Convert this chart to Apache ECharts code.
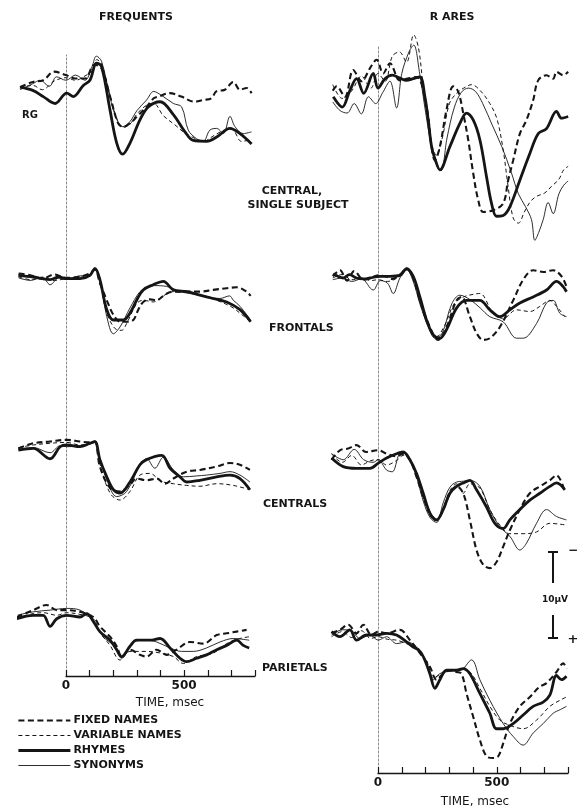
<!DOCTYPE html>
<html><head><meta charset="utf-8">
<script src="https://cdn.jsdelivr.net/npm/echarts@6/dist/echarts.min.js"></script>
<style>html,body{margin:0;padding:0;background:#fff}#c{width:579px;height:812px}</style>
</head><body><div id="c"></div>
<script>
// ---- categories ----
const SERIES_NAMES = ['FIXED NAMES', 'VARIABLE NAMES', 'RHYMES', 'SYNONYMS'];
const PANEL_NAMES = ['Frequents RG', 'Rares RG', 'Frequents Frontals', 'Rares Frontals',
  'Frequents Centrals', 'Rares Centrals', 'Frequents Parietals', 'Rares Parietals'];
const TIME_TICKS = [0, 500];           // labelled ticks, msec
// ---- data: [time msec, amplitude µV] (negative up) ----
const P1_FIXED = [[-194,-0.1],[-140,-0.7],[-96,-0.9],[-50,-1.9],[0,-1.5],[40,-1.1],[80,-1.1],[120,-2.7],[150,-2.3],[190,1.4],[220,4.1],[240,4.5],[270,4.1],[300,3.3],[340,2.2],[370,1.2],[390,1.0],[438,0.6],[487,1.0],[543,1.6],[578,1.4],[613,1.2],[634,0.4],[670,0.2],[706,-0.7],[734,0.2],[762,0.0],[783,0.6]];
const P1_VARIABLE = [[-194,0.0],[-140,-0.3],[-100,0.2],[-50,-0.8],[0,-1.2],[40,-0.9],[80,-1.4],[110,-2.0],[130,-3.3],[150,-2.8],[185,0.8],[215,3.6],[240,4.6],[270,4.2],[300,3.0],[340,2.0],[370,1.8],[410,3.2],[460,4.3],[500,5.2],[540,5.8],[580,6.2],[620,5.6],[660,5.0],[700,4.8],[740,6.2],[783,6.0]];
const P1_RHYMES = [[-194,-0.1],[-138,0.3],[-96,1.0],[-46,1.8],[3,0.6],[31,1.0],[73,-0.3],[101,-0.9],[129,-2.9],[150,-2.5],[186,2.6],[214,6.4],[239,7.7],[270,6.4],[312,3.7],[347,2.2],[397,1.6],[453,3.1],[502,5.1],[537,6.1],[593,6.2],[636,5.7],[692,4.7],[734,5.3],[783,6.5]];
const P1_SYNONYMS = [[-194,0.2],[-140,-0.5],[-110,-0.9],[-70,-0.2],[-40,-1.3],[0,-0.9],[40,-1.5],[80,-0.9],[110,-2.5],[128,-3.7],[150,-3.1],[185,1.0],[215,3.7],[240,4.5],[270,3.9],[300,2.6],[340,1.4],[370,0.4],[400,0.8],[453,1.8],[488,2.2],[516,4.9],[551,5.9],[579,6.2],[607,4.9],[636,4.7],[664,5.3],[692,3.3],[713,4.5],[748,5.3],[783,5.1]];

const P2_FIXED = [[-190,-0.5],[-174,-1.0],[-139,0.2],[-104,-2.9],[-69,-1.6],[-34,-3.1],[-6,-4.1],[22,-2.5],[50,-3.7],[92,-1.7],[120,-1.9],[162,-2.1],[204,1.4],[225,6.0],[239,7.6],[260,6.0],[288,1.7],[316,-1.0],[337,-0.4],[358,2.1],[379,5.2],[400,9.1],[421,12.2],[442,13.6],[484,13.4],[526,12.6],[547,9.9],[568,7.6],[596,4.5],[624,2.9],[652,0.6],[673,-1.7],[708,-2.3],[736,-1.9],[750,-2.7],[778,-2.3],[799,-2.7]];
const P2_VARIABLE = [[-190,-1.2],[-150,0.4],[-110,-0.5],[-70,-2.2],[-30,-0.8],[0,-2.5],[30,-1.6],[60,-4.5],[90,-5.0],[120,-3.8],[150,-7.0],[170,-5.5],[190,-1.0],[210,3.0],[230,6.2],[245,7.0],[270,5.0],[300,1.0],[330,-0.2],[360,-0.8],[393,-1.2],[430,-0.5],[470,1.0],[500,2.8],[526,6.4],[547,10.7],[568,14.3],[590,14.9],[615,13.6],[640,12.4],[665,11.8],[700,11.4],[730,10.6],[760,9.8],[780,8.7],[799,8.3]];
const P2_RHYMES = [[-188,0.2],[-150,1.4],[-120,-0.4],[-90,-1.9],[-60,-0.2],[-20,-2.5],[0,-0.8],[30,-1.9],[60,-2.3],[90,-2.0],[120,-1.7],[148,-1.9],[176,-2.1],[197,0.2],[211,2.9],[225,6.0],[239,7.4],[260,8.7],[302,6.0],[344,3.3],[372,2.1],[400,2.9],[428,5.2],[456,9.5],[477,12.6],[498,14.1],[526,14.0],[554,13.0],[596,9.9],[638,6.8],[673,4.5],[708,3.9],[750,1.9],[771,2.7],[799,2.5]];
const P2_SYNONYMS = [[-190,0.8],[-160,1.8],[-130,2.1],[-100,1.0],[-70,2.2],[-40,0.2],[-10,1.0],[20,-0.3],[50,-1.6],[78,1.5],[100,-2.5],[130,-5.0],[150,-5.8],[175,-2.5],[200,2.0],[225,6.0],[250,8.4],[265,8.8],[290,5.0],[320,1.5],[350,-0.3],[380,-0.8],[410,-0.4],[440,1.0],[480,3.5],[520,6.0],[560,9.0],[590,11.5],[620,13.0],[645,14.5],[659,16.9],[675,16.0],[694,14.5],[715,12.5],[736,13.8],[760,11.5],[780,10.5],[799,10.0]];

const P3_FIXED = [[-200,-0.4],[-150,-0.2],[-100,0.2],[-50,-0.3],[0,0.1],[50,0.0],[100,-0.4],[122,-0.9],[143,0.7],[172,2.7],[200,4.4],[228,5.2],[256,5.2],[284,5.0],[305,3.8],[326,2.9],[354,2.6],[382,2.7],[420,2.0],[453,1.7],[509,1.7],[565,1.7],[621,1.5],[678,1.3],[720,1.2],[762,1.7],[779,2.2]];
const P3_VARIABLE = [[-200,0.0],[-150,0.3],[-100,0.1],[-50,0.4],[0,0.2],[50,0.1],[100,-0.3],[122,-0.8],[143,0.5],[172,4.2],[207,6.0],[235,6.2],[256,5.4],[298,3.1],[326,2.7],[368,2.9],[410,2.2],[453,1.7],[537,1.9],[635,2.7],[700,3.5],[734,4.2],[779,5.2]];
const P3_RHYMES = [[-201,-0.2],[-138,0.0],[-100,0.2],[-67,0.3],[-30,0.0],[3,0.2],[59,0.2],[101,-0.2],[122,-1.0],[143,0.3],[172,3.8],[200,5.0],[242,5.0],[270,4.2],[298,2.7],[326,1.5],[368,0.9],[411,0.5],[453,1.5],[509,1.7],[565,2.1],[621,2.5],[678,2.9],[734,3.8],[779,5.2]];
const P3_SYNONYMS = [[-200,0.1],[-150,0.4],[-100,0.0],[-67,0.9],[-30,0.1],[0,0.3],[50,-0.1],[100,-0.2],[122,-0.9],[143,0.3],[172,4.6],[200,6.6],[228,5.8],[270,3.6],[312,1.7],[340,1.3],[370,1.0],[425,1.1],[481,1.7],[565,2.1],[649,2.5],[690,2.2],[706,2.7],[734,3.4],[779,5.0]];

const P4_FIXED = [[-190,-0.2],[-160,-0.9],[-130,0.3],[-100,-0.8],[-60,0.2],[-30,0.0],[0,-0.3],[30,-0.2],[60,0.1],[92,-0.4],[120,-1.1],[148,0.0],[176,2.6],[218,5.7],[253,7.2],[288,5.7],[330,2.6],[351,2.2],[386,4.5],[414,6.4],[442,7.2],[470,7.0],[512,5.7],[568,2.6],[610,0.2],[652,-0.9],[694,-0.7],[736,-0.9],[771,-0.2],[792,1.0]];
const P4_VARIABLE = [[-190,0.0],[-150,-0.4],[-110,0.2],[-70,0.0],[-30,0.3],[0,0.2],[40,0.4],[80,0.0],[120,-0.9],[148,0.2],[176,2.8],[210,5.5],[246,6.8],[280,5.5],[320,3.0],[360,2.2],[400,1.9],[428,1.8],[484,4.1],[526,4.7],[582,3.7],[638,3.9],[680,3.3],[722,2.6],[750,3.3],[785,4.5]];
const P4_RHYMES = [[-188,-0.5],[-146,0.0],[-120,-0.4],[-90,0.0],[-60,0.1],[-34,0.0],[8,-0.2],[50,-0.2],[92,-0.3],[120,-1.1],[148,-0.2],[176,2.2],[204,4.9],[232,6.6],[260,7.0],[288,6.0],[330,3.5],[372,2.6],[428,2.6],[470,3.7],[512,4.5],[554,3.7],[596,2.9],[652,2.2],[708,1.4],[750,0.4],[778,1.0],[792,1.6]];
const P4_SYNONYMS = [[-190,0.2],[-150,0.0],[-110,0.4],[-70,0.1],[-20,1.4],[10,0.3],[40,0.6],[64,1.8],[92,0.0],[120,-1.0],[148,0.4],[176,3.0],[210,5.6],[240,7.0],[270,6.4],[310,3.0],[344,2.0],[386,2.5],[430,3.5],[470,4.5],[526,5.1],[582,7.0],[610,7.0],[666,5.3],[708,2.9],[736,2.6],[764,4.1],[792,4.5]];

const P5_FIXED = [[-201,0.4],[-138,-0.2],[-67,-0.4],[3,-0.6],[59,-0.4],[101,-0.3],[122,-0.4],[143,2.5],[186,5.0],[228,5.4],[270,4.6],[298,3.9],[340,4.1],[382,3.9],[418,4.5],[453,3.9],[509,3.1],[565,2.9],[636,2.5],[692,2.1],[734,2.3],[776,2.9]];
const P5_VARIABLE = [[-201,0.3],[-138,0.0],[-67,-0.2],[3,-0.3],[59,0.0],[101,-0.2],[122,-0.3],[143,2.2],[186,5.6],[228,6.4],[270,5.4],[312,3.5],[354,3.3],[400,4.2],[453,4.5],[509,4.7],[565,4.8],[636,4.5],[706,4.7],[776,5.2]];
const P5_RHYMES = [[-201,0.6],[-138,0.4],[-67,1.6],[-25,0.2],[3,0.0],[59,0.2],[101,-0.2],[122,-0.4],[143,1.7],[172,3.7],[200,5.2],[228,5.6],[270,4.3],[312,2.3],[340,1.7],[404,1.2],[439,2.7],[481,3.7],[509,4.3],[565,4.1],[636,3.7],[692,3.5],[734,3.9],[776,5.2]];
const P5_SYNONYMS = [[-201,0.5],[-138,0.3],[-67,0.9],[-25,0.1],[3,0.2],[59,0.1],[101,-0.1],[122,-0.3],[143,1.5],[172,4.0],[214,6.0],[256,5.4],[312,2.3],[340,1.6],[375,2.7],[411,1.4],[453,2.9],[495,3.7],[550,3.6],[593,3.5],[650,3.3],[692,3.1],[734,3.5],[776,4.3]];

const P6_FIXED = [[-195,0.2],[-160,-0.9],[-125,-1.1],[-90,-1.5],[-50,-0.7],[1,-0.9],[36,-0.5],[78,-0.2],[106,-0.5],[134,0.2],[162,2.2],[190,4.5],[218,6.4],[246,7.2],[274,6.0],[302,4.1],[330,3.3],[358,4.1],[386,7.2],[414,10.7],[442,12.4],[470,12.8],[498,12.1],[526,10.3],[554,8.4],[596,6.0],[638,4.1],[680,3.3],[722,2.6],[750,2.0],[785,3.9]];
const P6_VARIABLE = [[-195,-0.5],[-150,0.5],[-110,-0.3],[-70,0.8],[-30,0.3],[1,0.2],[36,0.8],[78,0.3],[106,-0.3],[134,0.3],[162,2.0],[190,4.5],[218,6.7],[246,7.3],[274,5.8],[302,3.8],[330,3.0],[358,4.1],[386,3.0],[428,3.5],[470,6.0],[512,7.8],[554,8.8],[610,8.8],[666,8.6],[722,7.6],[792,7.8]];
const P6_RHYMES = [[-195,0.0],[-146,1.0],[-90,1.2],[-34,1.2],[1,0.6],[36,0.0],[78,-0.5],[106,-0.7],[134,0.2],[162,1.8],[190,4.1],[218,6.4],[246,7.2],[274,6.0],[302,4.1],[330,3.3],[358,2.9],[386,2.6],[414,3.7],[456,5.7],[491,7.6],[526,8.2],[554,7.2],[596,6.0],[638,4.9],[680,4.1],[722,3.3],[750,2.9],[785,3.7]];
const P6_SYNONYMS = [[-195,-0.5],[-146,0.2],[-100,-1.0],[-60,0.2],[-20,0.5],[1,0.2],[36,1.4],[60,1.6],[90,-0.5],[106,-0.6],[134,0.3],[162,2.2],[190,5.0],[218,6.9],[246,7.5],[274,5.2],[302,3.4],[330,2.8],[358,2.7],[386,2.6],[428,3.3],[470,6.0],[512,8.0],[554,9.1],[596,10.7],[624,9.9],[666,7.6],[708,6.0],[750,6.8],[792,7.2]];

const P7_FIXED = [[-208,0.0],[-138,-0.8],[-82,-1.4],[-39,-0.8],[3,-0.8],[59,-0.6],[115,0.0],[143,1.1],[186,2.3],[214,3.4],[235,4.6],[270,3.8],[312,4.4],[340,4.6],[382,3.8],[425,4.4],[467,3.8],[523,2.9],[579,3.1],[636,2.1],[678,1.9],[720,1.7],[762,1.5]];
const P7_VARIABLE = [[-208,0.1],[-138,-0.4],[-96,-0.5],[-39,-0.2],[3,-0.5],[59,-0.3],[115,0.2],[143,1.8],[186,3.3],[228,5.0],[270,4.0],[340,4.0],[400,4.2],[453,4.6],[495,5.4],[551,4.6],[621,4.2],[678,3.1],[734,2.5],[773,2.3]];
const P7_RHYMES = [[-208,0.2],[-138,-0.2],[-96,-0.2],[-67,1.1],[-39,0.2],[3,-0.2],[59,0.0],[87,-0.4],[115,0.5],[143,1.7],[186,2.7],[214,3.8],[235,4.6],[270,3.4],[298,2.7],[354,2.7],[397,2.5],[439,3.6],[481,4.8],[509,5.2],[551,4.8],[593,4.4],[636,3.8],[678,3.3],[720,2.7],[748,3.3],[773,3.6]];
const P7_SYNONYMS = [[-208,-0.2],[-138,-0.6],[-67,-0.8],[3,-1.0],[59,-0.8],[115,0.4],[157,2.3],[200,3.3],[235,4.8],[284,2.9],[340,2.7],[382,2.9],[439,3.6],[488,4.0],[537,4.0],[593,3.6],[650,2.9],[706,2.5],[773,2.7]];

const P8_FIXED = [[-195,-0.2],[-160,-0.6],[-125,-1.2],[-90,-0.2],[-62,-1.2],[-27,0.0],[1,-0.4],[36,-0.2],[92,-0.6],[134,0.6],[176,2.1],[218,3.7],[246,5.2],[274,4.5],[302,4.1],[330,4.3],[351,4.5],[372,6.8],[400,9.5],[428,12.2],[456,14.1],[484,14.3],[505,14.1],[526,12.6],[554,10.3],[596,8.3],[638,7.2],[680,6.0],[708,5.6],[750,4.3],[778,3.3],[792,3.9]];
const P8_VARIABLE = [[-195,0.2],[-150,-0.4],[-110,0.3],[-70,-0.5],[-30,0.4],[1,0.2],[40,0.5],[78,0.6],[120,1.0],[160,1.6],[204,3.0],[232,5.0],[260,4.6],[302,4.2],[344,4.0],[386,4.3],[428,6.2],[470,8.3],[512,9.9],[554,10.5],[610,10.9],[666,9.9],[722,8.3],[764,7.6],[792,7.2]];
const P8_RHYMES = [[-195,-0.4],[-160,0.2],[-118,-0.6],[-90,0.6],[-48,0.0],[-6,0.0],[36,-0.2],[78,0.0],[120,0.8],[148,1.4],[169,1.7],[190,2.5],[218,4.5],[239,6.2],[260,5.2],[288,4.1],[330,4.1],[358,3.9],[386,4.5],[428,6.8],[470,9.1],[498,10.9],[526,10.9],[568,10.3],[610,9.3],[652,8.3],[694,7.8],[722,7.0],[750,4.7],[771,5.2],[792,4.8]];
const P8_SYNONYMS = [[-195,0.0],[-150,-0.6],[-118,-0.6],[-76,0.4],[-34,0.0],[1,0.6],[36,0.2],[78,1.0],[120,0.8],[162,1.4],[204,3.3],[232,5.2],[260,4.5],[302,4.1],[344,4.1],[393,2.9],[428,5.2],[470,7.6],[526,10.3],[568,11.8],[610,12.8],[652,11.4],[694,10.3],[736,9.1],[764,8.7],[792,8.3]];

const PANEL_DATA = [
  [P1_FIXED, P1_VARIABLE, P1_RHYMES, P1_SYNONYMS],
  [P2_FIXED, P2_VARIABLE, P2_RHYMES, P2_SYNONYMS],
  [P3_FIXED, P3_VARIABLE, P3_RHYMES, P3_SYNONYMS],
  [P4_FIXED, P4_VARIABLE, P4_RHYMES, P4_SYNONYMS],
  [P5_FIXED, P5_VARIABLE, P5_RHYMES, P5_SYNONYMS],
  [P6_FIXED, P6_VARIABLE, P6_RHYMES, P6_SYNONYMS],
  [P7_FIXED, P7_VARIABLE, P7_RHYMES, P7_SYNONYMS],
  [P8_FIXED, P8_VARIABLE, P8_RHYMES, P8_SYNONYMS]
];

// ---- layout (not data) ----
const PX_PER_UV = 8.6, YMIN = -8, YMAX = 18;
const COLS = [{left: 18.6, width: 237}, {left: 330.4, width: 238}];
const BASELINES = [88, 95, 277, 278, 445, 458, 617, 635];
const INK = '#151515';
const STYLES = [
  {width: 2.1, type: [6, 3.5]},
  {width: 1, type: [4, 3]},
  {width: 2.8, type: 'solid'},
  {width: 0.9, type: 'solid'}
];
const FONT = 'DejaVu Sans, Liberation Sans, sans-serif';

const grid = [], xAxis = [], yAxis = [], series = [];
BASELINES.forEach((y0, p) => {
  const col = COLS[p % 2];
  grid.push({left: col.left, width: col.width, top: y0 + YMIN * PX_PER_UV, height: (YMAX - YMIN) * PX_PER_UV});
  xAxis.push({type: 'value', gridIndex: p, min: -200, max: 800, show: false});
  yAxis.push({type: 'value', gridIndex: p, min: YMIN, max: YMAX, inverse: true, show: false});
  PANEL_DATA[p].forEach((d, s) => {
    series.push({
      type: 'line', name: SERIES_NAMES[s], xAxisIndex: p, yAxisIndex: p, data: d,
      symbol: 'none', showSymbol: false, smooth: 0.35, clip: false, silent: true,
      lineStyle: {color: INK, width: STYLES[s].width, type: STYLES[s].type},
      itemStyle: {color: INK}, z: s === 2 ? 4 : 3
    });
  });
});
// frame grids with time axis and 0 ms line
const FRAMES = [{left: 66, top: 55, width: 189, height: 621}, {left: 378, top: 47, width: 190, height: 726}];
FRAMES.forEach((f, i) => {
  const gi = grid.length;
  grid.push(f);
  xAxis.push({type: 'value', gridIndex: gi, min: 0, max: 800, interval: 100, position: 'bottom',
    axisLine: {show: true, onZero: false, lineStyle: {color: INK, width: 1.4}},
    axisTick: {show: true, inside: true, length: 6, lineStyle: {color: INK, width: 1.2}},
    axisLabel: {color: INK, fontSize: 12, fontWeight: 'bold', fontFamily: FONT, margin: 4,
      formatter: v => TIME_TICKS.includes(v) ? String(v) : ''},
    splitLine: {show: false}});
  yAxis.push({type: 'value', gridIndex: gi, min: 0, max: 1, position: 'left',
    axisLine: {show: true, onZero: false, lineStyle: {color: '#888', width: 1, type: [2, 2]}},
    axisTick: {show: false}, axisLabel: {show: false}, splitLine: {show: false}});
});

function txt(x, y, s, size, weight, align) {
  return {type: 'text', x: x, y: y, silent: true,
    style: {text: s, fill: INK, font: (weight || 'bold') + ' ' + size + 'px ' + FONT,
      textAlign: align || 'center', textVerticalAlign: 'middle'}};
}
const graphic = [
  txt(136, 17, 'FREQUENTS', 11),
  txt(452, 17, 'R ARES', 11),
  txt(30, 115, 'RG', 10),
  txt(292, 191, 'CENTRAL,', 11),
  txt(298, 205, 'SINGLE SUBJECT', 11),
  txt(269, 328, 'FRONTALS', 11, 'bold', 'left'),
  txt(263, 504, 'CENTRALS', 11, 'bold', 'left'),
  txt(262, 668, 'PARIETALS', 11, 'bold', 'left'),
  txt(170, 703, 'TIME, msec', 12, 'normal'),
  txt(475, 802, 'TIME, msec', 12, 'normal'),
  // scale bar 10 µV
  {type: 'line', silent: true, shape: {x1: 553, y1: 552, x2: 553, y2: 583}, style: {stroke: INK, lineWidth: 2}},
  {type: 'line', silent: true, shape: {x1: 548, y1: 552, x2: 558, y2: 552}, style: {stroke: INK, lineWidth: 2}},
  {type: 'line', silent: true, shape: {x1: 553, y1: 615, x2: 553, y2: 638}, style: {stroke: INK, lineWidth: 2}},
  {type: 'line', silent: true, shape: {x1: 548, y1: 638, x2: 558, y2: 638}, style: {stroke: INK, lineWidth: 2}},
  txt(555, 600, '10µV', 9),
  txt(573, 551, '−', 12),
  txt(573, 640, '+', 13)
];

const chart = echarts.init(document.getElementById('c'), null, {renderer: 'canvas'});
chart.setOption({
  animation: false,
  backgroundColor: '#fff',
  grid, xAxis, yAxis, series, graphic,
  legend: {
    data: SERIES_NAMES.map((n, s) => ({name: n,
      lineStyle: {width: STYLES[s].width, type: STYLES[s].type, color: INK}})),
    orient: 'vertical', left: 12, top: 709, itemWidth: 52, itemHeight: 8, itemGap: 2,
    selectedMode: false,
    itemStyle: {opacity: 0, borderWidth: 0},
    textStyle: {color: INK, fontSize: 11, fontWeight: 'bold', fontFamily: FONT, lineHeight: 13, padding: [0, 0, 0, -2]}
  }
});
</script></body></html>
